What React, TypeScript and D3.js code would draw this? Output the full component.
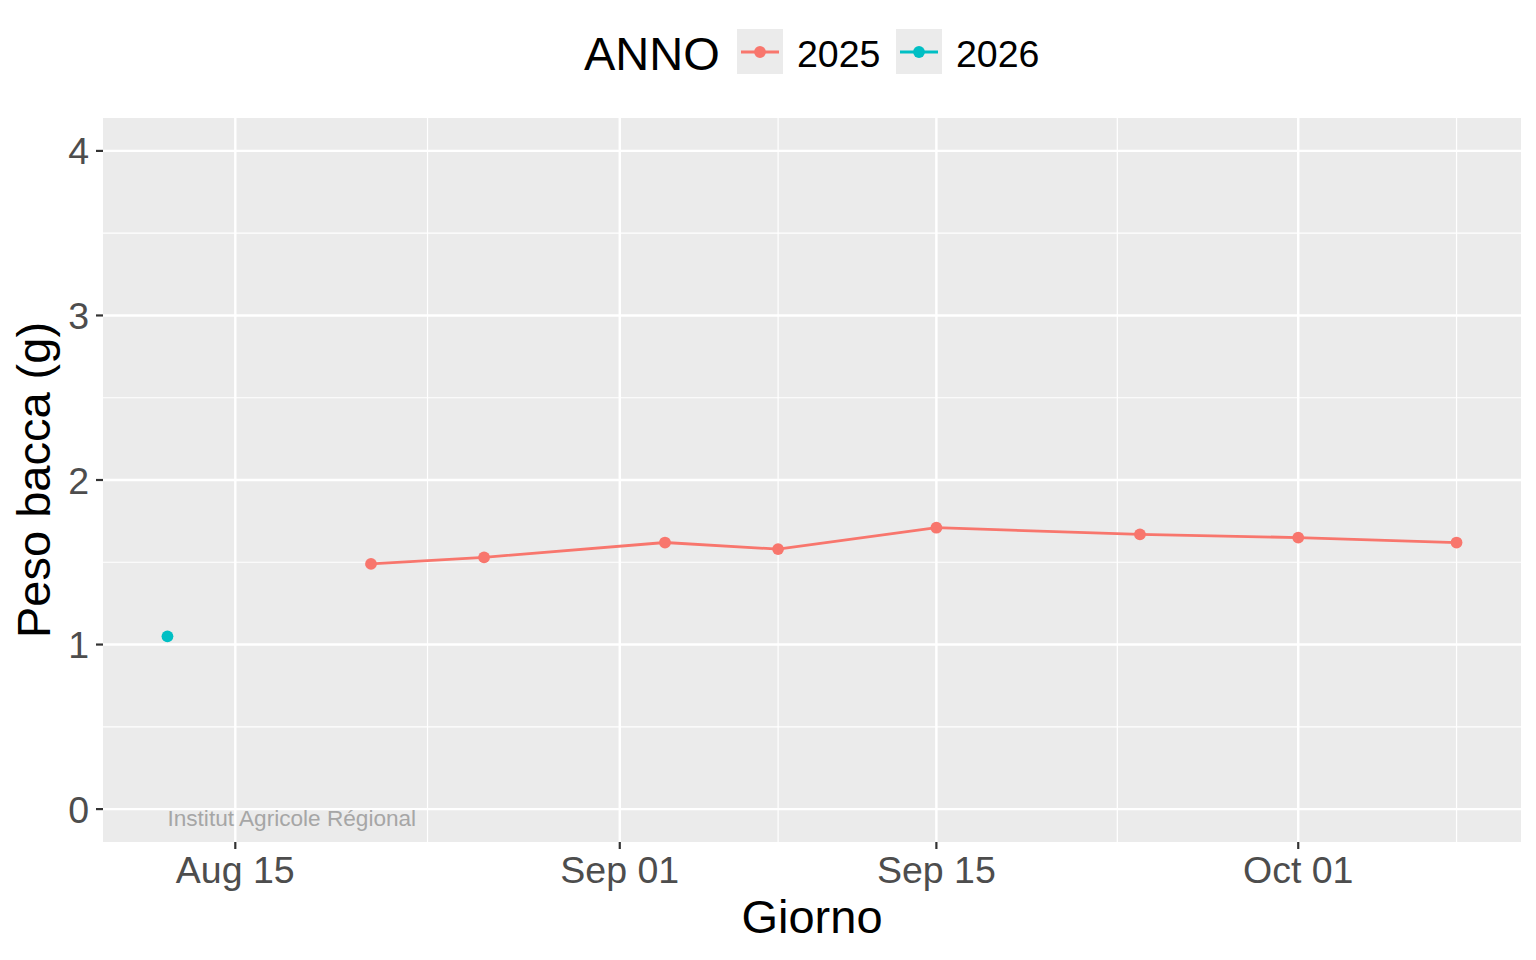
import * as d3 from 'd3';

// ANNO groups; every date plotted on a common day-of-year axis
const anni = ['2025', '2026'];
const colori = ['#F8766D', '#00BFC4'];

const giorni2025 = ['08-21', '08-26', '09-03', '09-08', '09-15', '09-24', '10-01', '10-08'];
const peso2025 = [1.49, 1.53, 1.62, 1.58, 1.71, 1.67, 1.65, 1.62];

const giorni2026 = ['08-12'];
const peso2026 = [1.05];

// axis breaks (ggplot-like)
const xBreaks = ['08-01', '08-15', '09-01', '09-15', '10-01', '10-15'];
const yBreaks = [0, 1, 2, 3, 4];

const W = 1536;
const H = 960;
const panel = { left: 103, right: 1521, top: 118, bottom: 842 };
const FONT = '"Liberation Sans", Arial, Helvetica, sans-serif';

const parse = d3.utcParse('%m-%d');

export default function App() {
  const series = [
    { anno: anni[0], color: colori[0], pts: giorni2025.map((g, i) => ({ d: parse(g)!, v: peso2025[i] })) },
    { anno: anni[1], color: colori[1], pts: giorni2026.map((g, i) => ({ d: parse(g)!, v: peso2026[i] })) },
  ];

  const allDates = series.flatMap(s => s.pts.map(p => +p.d));
  const dMin = d3.min(allDates)!;
  const dMax = d3.max(allDates)!;
  const pad = (dMax - dMin) * 0.05;
  const x = d3.scaleUtc()
    .domain([new Date(dMin - pad), new Date(dMax + pad)])
    .range([panel.left, panel.right]);

  // y limits 0..4 with 5% expansion
  const y = d3.scaleLinear().domain([-0.2, 4.2]).range([panel.bottom, panel.top]);

  const [x0, x1] = x.domain().map(Number);
  const majorX = xBreaks.map(b => parse(b)!);
  const minorX = majorX.slice(1).map((d, i) => new Date((+d + +majorX[i]) / 2));
  const visX = (d: Date) => +d >= x0 && +d <= x1;
  const minorY = yBreaks.slice(1).map((v, i) => (v + yBreaks[i]) / 2);

  const fmt = d3.utcFormat('%b %d');
  const line = d3.line<{ d: Date; v: number }>().x(p => x(p.d)).y(p => y(p.v));

  return (
    <svg width={W} height={H} style={{ position: 'absolute', left: 0, top: 0, background: '#fff' }} fontFamily={FONT}>
      {/* panel */}
      <rect x={panel.left} y={panel.top} width={panel.right - panel.left} height={panel.bottom - panel.top} fill="#EBEBEB" />
      {minorY.map(v => (
        <line key={'my' + v} x1={panel.left} x2={panel.right} y1={y(v)} y2={y(v)} stroke="#fff" strokeWidth={1.2} />
      ))}
      {minorX.filter(visX).map(d => (
        <line key={'mx' + +d} x1={x(d)} x2={x(d)} y1={panel.top} y2={panel.bottom} stroke="#fff" strokeWidth={1.2} />
      ))}
      {yBreaks.map(v => (
        <line key={'gy' + v} x1={panel.left} x2={panel.right} y1={y(v)} y2={y(v)} stroke="#fff" strokeWidth={2.4} />
      ))}
      {majorX.filter(visX).map(d => (
        <line key={'gx' + +d} x1={x(d)} x2={x(d)} y1={panel.top} y2={panel.bottom} stroke="#fff" strokeWidth={2.4} />
      ))}

      {/* data */}
      {series.map(s => (
        <g key={s.anno}>
          {s.pts.length > 1 && <path d={line(s.pts)!} fill="none" stroke={s.color} strokeWidth={2.8} />}
          {s.pts.map((p, i) => (
            <circle key={i} cx={x(p.d)} cy={y(p.v)} r={5.9} fill={s.color} />
          ))}
        </g>
      ))}

      {/* annotation */}
      <text x={x(parse(giorni2026[0])!)} y={y(0) + 17} fontSize={22.6} fill="#A6A6A6">Institut Agricole Régional</text>

      {/* y axis */}
      {yBreaks.map(v => (
        <g key={'ty' + v}>
          <line x1={panel.left - 7} x2={panel.left} y1={y(v)} y2={y(v)} stroke="#333" strokeWidth={2.2} />
          <text x={panel.left - 14} y={y(v)} dy="0.36em" textAnchor="end" fontSize={37.5} fill="#4D4D4D">{v}</text>
        </g>
      ))}
      <text transform={`translate(50,${(panel.top + panel.bottom) / 2}) rotate(-90)`} textAnchor="middle" fontSize={47} fill="#000">Peso bacca (g)</text>

      {/* x axis */}
      {majorX.filter(visX).map(d => (
        <g key={'tx' + +d}>
          <line x1={x(d)} x2={x(d)} y1={panel.bottom} y2={panel.bottom + 7} stroke="#333" strokeWidth={2.2} />
          <text x={x(d)} y={883} textAnchor="middle" fontSize={37.5} fill="#4D4D4D">{fmt(d)}</text>
        </g>
      ))}
      <text x={(panel.left + panel.right) / 2} y={933} textAnchor="middle" fontSize={47} fill="#000">Giorno</text>

      {/* legend */}
      <text x={584} y={70} fontSize={47} fill="#000">ANNO</text>
      {series.map((s, i) => {
        const kx = 737 + i * 159;
        return (
          <g key={'lg' + s.anno}>
            <rect x={kx} y={29} width={46} height={45} fill="#EBEBEB" />
            <line x1={kx + 4} x2={kx + 42} y1={52} y2={52} stroke={s.color} strokeWidth={2.8} />
            <circle cx={kx + 23} cy={52} r={5.9} fill={s.color} />
            <text x={kx + 60} y={67} fontSize={37.5} fill="#000">{s.anno}</text>
          </g>
        );
      })}
    </svg>
  );
}
